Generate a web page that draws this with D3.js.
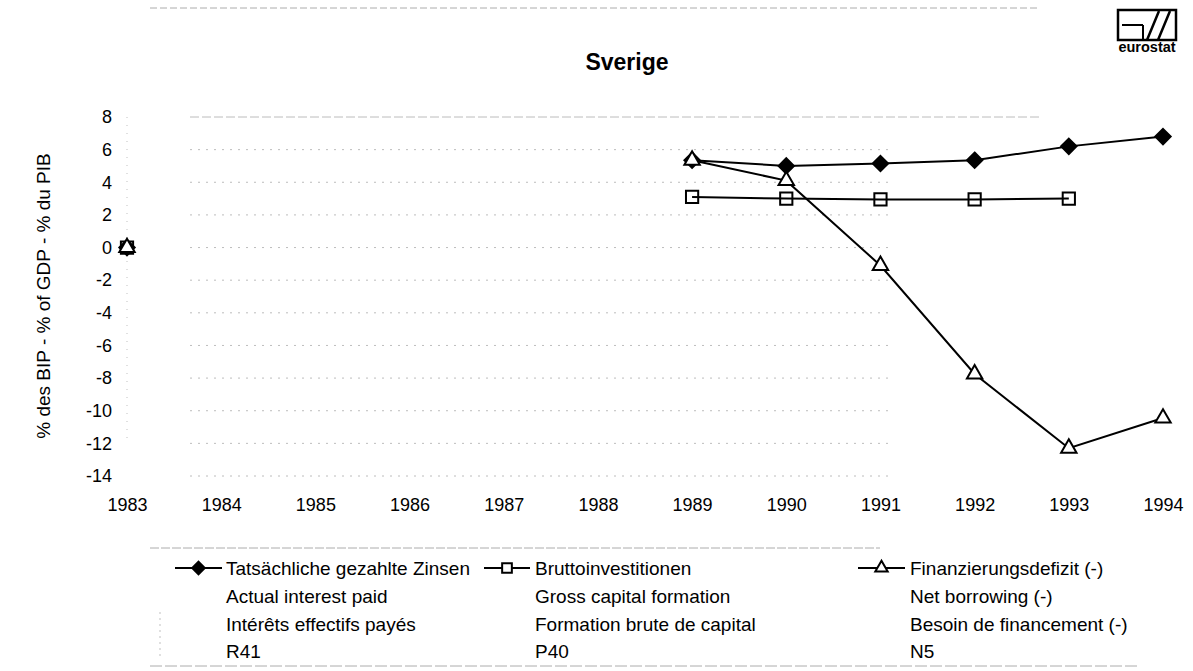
<!DOCTYPE html>
<html>
<head>
<meta charset="utf-8">
<script src="https://cdn.jsdelivr.net/npm/d3@7"></script>
<style>
  html, body { margin: 0; padding: 0; background: #fff; }
  svg { display: block; font-family: "Liberation Sans", Arial, sans-serif; }
</style>
</head>
<body>
<svg id="chart" width="1193" height="671"></svg>
<script>
// Years on the category axis
const years = [1983, 1984, 1985, 1986, 1987, 1988, 1989, 1990, 1991, 1992, 1993, 1994];

// % of GDP, null where no figure is published
const interestPaid   = [0, null, null, null, null, null, 5.35, 5.0, 5.15, 5.35, 6.2, 6.8];
const grossCapital   = [0, null, null, null, null, null, 3.1, 3.0, 2.95, 2.95, 3.0, null];
const netBorrowing   = [0, null, null, null, null, null, 5.35, 4.1, -1.1, -7.75, -12.3, -10.45];

const yTicks = [8, 6, 4, 2, 0, -2, -4, -6, -8, -10, -12, -14];

const seriesNames = [
  ["Tatsächliche gezahlte Zinsen", "Actual interest paid", "Intérêts effectifs payés", "R41"],
  ["Bruttoinvestitionen", "Gross capital formation", "Formation brute de capital", "P40"],
  ["Finanzierungsdefizit (-)", "Net borrowing (-)", "Besoin de financement (-)", "N5"]
];

const chartTitle = "Sverige";
const yTitle = "% des BIP - % of GDP - % du PIB";

const svg = d3.select("#chart");

const x = d3.scalePoint().domain(years).range([127, 1163]);
const y = d3.scaleLinear().domain([-14, 8]).range([476, 117]);

// faint dotted page rule at the top
svg.append("line").attr("x1", 150).attr("x2", 1040).attr("y1", 8).attr("y2", 8)
  .attr("stroke", "#777").attr("stroke-width", 1).attr("stroke-dasharray", "7,3").attr("opacity", 0.6);

// title
svg.append("text").attr("x", 627).attr("y", 70).attr("text-anchor", "middle")
  .attr("font-size", 23).attr("font-weight", "bold").text(chartTitle);

// eurostat logo
const logo = svg.append("g").attr("transform", "translate(1118,10)");
logo.append("rect").attr("x", 0).attr("y", 0).attr("width", 58).attr("height", 30)
  .attr("fill", "#fff").attr("stroke", "#000").attr("stroke-width", 2.5);
logo.append("path").attr("d", "M4,15 H25 M25,15 V30")
  .attr("stroke", "#000").attr("stroke-width", 2).attr("fill", "none");
logo.append("path").attr("d", "M29,30 L41,1 M40,30 L52,1")
  .attr("stroke", "#000").attr("stroke-width", 2.5).attr("fill", "none");
logo.append("text").attr("x", 29).attr("y", 42).attr("text-anchor", "middle")
  .attr("font-size", 14.5).attr("font-weight", "bold").text("eurostat");

// dotted horizontal gridlines
svg.append("g").selectAll("line").data(yTicks).join("line")
  .attr("x1", 190).attr("x2", d => d === 8 ? 1040 : 890)
  .attr("y1", d => y(d)).attr("y2", d => y(d))
  .attr("stroke", "#888").attr("stroke-width", 1)
  .attr("stroke-dasharray", d => d === 8 ? "9,3" : "2,6").attr("opacity", 0.55);

// faint dotted value axis
svg.append("line").attr("x1", 127).attr("x2", 127).attr("y1", y(8)).attr("y2", y(-12))
  .attr("stroke", "#999").attr("stroke-width", 1).attr("stroke-dasharray", "1,7").attr("opacity", 0.6);

// y axis (labels only), plain hyphen for negatives
const yAxis = d3.axisLeft(y).tickValues(yTicks).tickFormat(d => String(d)).tickSize(0).tickPadding(0);
const gy = svg.append("g").attr("transform", "translate(112,0)").call(yAxis);
gy.select(".domain").remove();
gy.selectAll("text").attr("font-size", 18).attr("fill", "#000")
  .attr("font-family", "Liberation Sans, Arial, sans-serif");

// x axis (labels only)
const xAxis = d3.axisBottom(x).tickFormat(d => String(d)).tickSize(0).tickPadding(0);
const gx = svg.append("g").attr("transform", "translate(0,498)").call(xAxis);
gx.select(".domain").remove();
gx.selectAll("text").attr("font-size", 18).attr("fill", "#000")
  .attr("font-family", "Liberation Sans, Arial, sans-serif");

// y axis title
svg.append("text").attr("transform", "translate(50,296) rotate(-90)")
  .attr("text-anchor", "middle").attr("font-size", 19).text(yTitle);

// series
const line = d3.line()
  .defined(d => d.v !== null)
  .x(d => x(d.year)).y(d => y(d.v));

const toPts = arr => years.map((yr, i) => ({ year: yr, v: arr[i] }));

const series = [
  { data: toPts(interestPaid), sym: d3.symbol().type(d3.symbolDiamond2).size(150), fill: "#000" },
  { data: toPts(grossCapital), sym: d3.symbol().type(d3.symbolSquare2).size(190), fill: "none" },
  { data: toPts(netBorrowing), sym: d3.symbol().type(d3.symbolTriangle2).size(170), fill: "#fff" }
];

series.forEach(s => {
  svg.append("path").datum(s.data).attr("d", line)
    .attr("fill", "none").attr("stroke", "#000").attr("stroke-width", 2);
});
series.forEach(s => {
  svg.append("g").selectAll("path").data(s.data.filter(d => d.v !== null)).join("path")
    .attr("transform", d => `translate(${x(d.year)},${y(d.v)})`)
    .attr("d", s.sym())
    .attr("fill", s.fill).attr("stroke", "#000").attr("stroke-width", 2);
});

// legend box rules
const legendBox = svg.append("g");
legendBox.append("line").attr("x1", 150).attr("x2", 880).attr("y1", 548).attr("y2", 548)
  .attr("stroke", "#777").attr("stroke-dasharray", "9,2").attr("opacity", 0.6);
legendBox.append("line").attr("x1", 150).attr("x2", 1140).attr("y1", 666).attr("y2", 666)
  .attr("stroke", "#777").attr("stroke-dasharray", "12,3").attr("opacity", 0.6);
legendBox.append("line").attr("x1", 160).attr("x2", 160).attr("y1", 612).attr("y2", 660)
  .attr("stroke", "#999").attr("stroke-dasharray", "2,4").attr("opacity", 0.6);

// legend entries
const legendCols = [
  { x0: 175, x1: 222, text: 226 },
  { x0: 484, x1: 530, text: 535 },
  { x0: 858, x1: 905, text: 910 }
];
const rowY = [568, 596, 624, 651];
const legendSyms = [
  { sym: d3.symbol().type(d3.symbolDiamond2).size(100), fill: "#000" },
  { sym: d3.symbol().type(d3.symbolSquare2).size(120), fill: "#fff" },
  { sym: d3.symbol().type(d3.symbolTriangle2).size(110), fill: "#fff" }
];
legendCols.forEach((c, i) => {
  const g = svg.append("g");
  g.append("line").attr("x1", c.x0).attr("x2", c.x1).attr("y1", rowY[0]).attr("y2", rowY[0])
    .attr("stroke", "#000").attr("stroke-width", 2);
  g.append("path").attr("transform", `translate(${(c.x0 + c.x1) / 2},${rowY[0]})`)
    .attr("d", legendSyms[i].sym()).attr("fill", legendSyms[i].fill)
    .attr("stroke", "#000").attr("stroke-width", 2);
  seriesNames[i].forEach((t, r) => {
    g.append("text").attr("x", c.text).attr("y", rowY[r] + 6.5)
      .attr("font-size", 19).text(t);
  });
});
</script>
</body>
</html>
